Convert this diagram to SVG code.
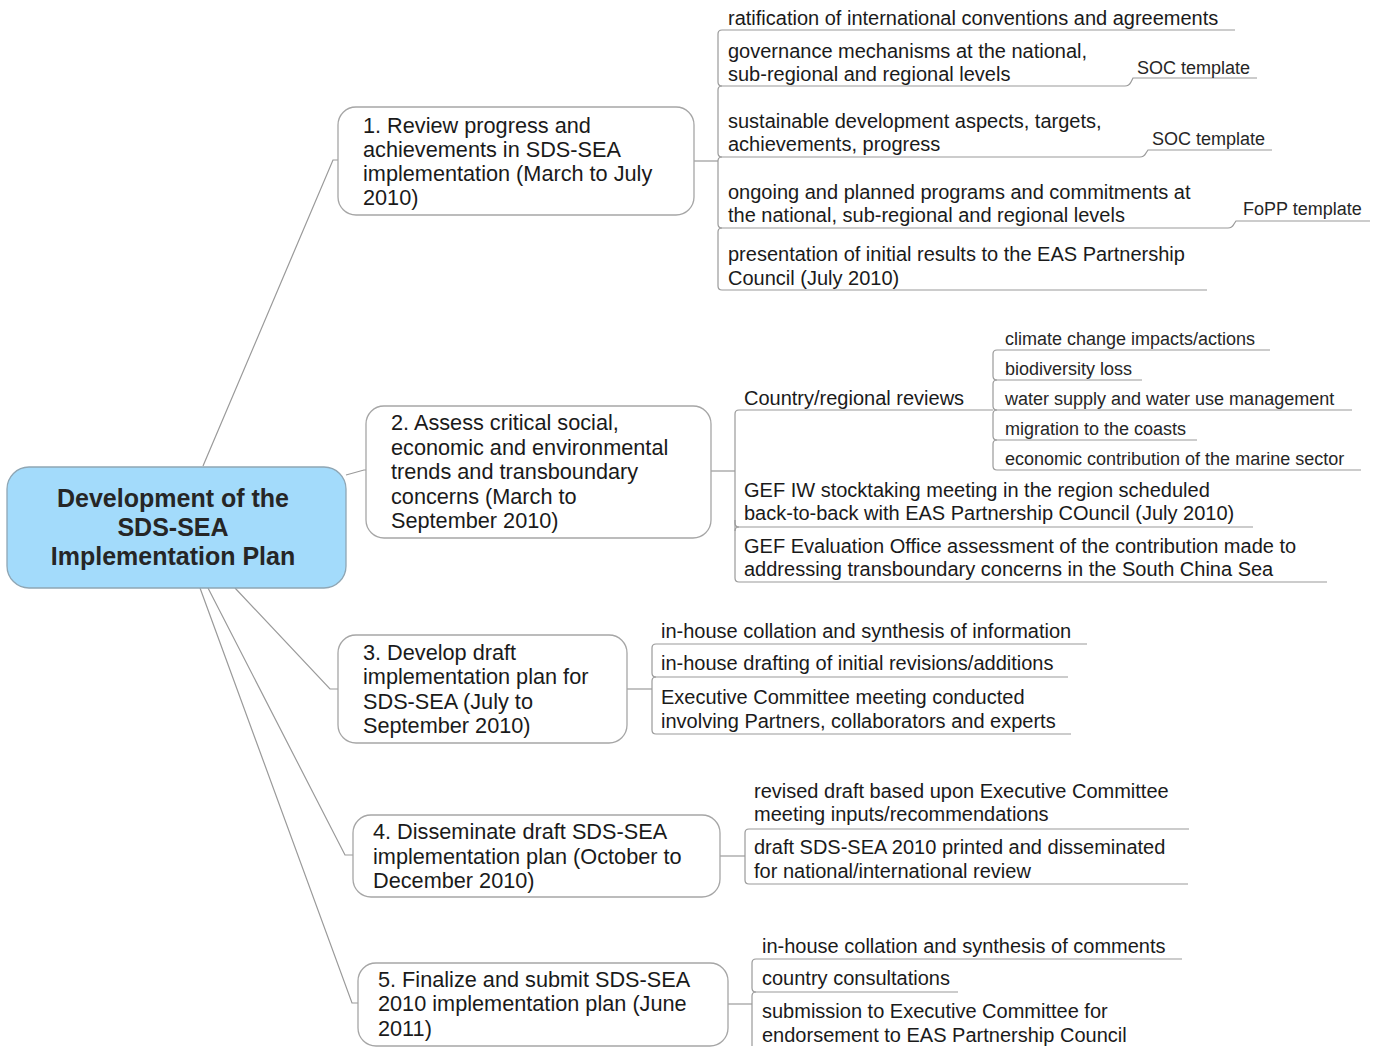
<svg xmlns="http://www.w3.org/2000/svg" width="1380" height="1047" viewBox="0 0 1380 1047">
<style>
.bg{fill:#ffffff}
.root{fill:#a3dbfb;stroke:#8fa6b4;stroke-width:1.3}
.topic{fill:#ffffff;stroke:#a6a6a6;stroke-width:1.3}
.rt{font-family:"Liberation Sans",Arial,sans-serif;font-size:25px;font-weight:bold;fill:#262626;text-anchor:middle}
.tt{font-family:"Liberation Sans",Arial,sans-serif;font-size:21.7px;fill:#1a1a1a}
.st{font-family:"Liberation Sans",Arial,sans-serif;font-size:20px;fill:#1a1a1a}
.nt{font-family:"Liberation Sans",Arial,sans-serif;font-size:18px;fill:#262626}
.ln{fill:none;stroke:#9a9a9a;stroke-width:1.2}
</style>
<rect class="bg" x="0" y="0" width="1380" height="1047"/>
<g id="connectors">
  <!-- root to main topics -->
  <path class="ln" d="M203,466 L333,160 L338,160"/>
  <path class="ln" d="M346,475 L364,470 L366,470"/>
  <path class="ln" d="M235,588 L330,689 L338,689"/>
  <path class="ln" d="M208,588 L345,855 L353,855"/>
  <path class="ln" d="M200,588 L352,1003 L358,1003"/>
  <!-- topic 1 children -->
  <path class="ln" d="M694,161 L718,161"/>
  <path class="ln" d="M722,30 L1235,30"/>
  <path class="ln" d="M722,30 Q718,30 718,34 L718,82 Q718,86 722,86 L1125,86 Q1129,86 1131,82 L1133,78 L1257,78"/>
  <path class="ln" d="M722,86 Q718,86 718,90 L718,153 Q718,157 722,157 L1140,157 Q1144,157 1146,153 L1148,150 L1272,150"/>
  <path class="ln" d="M722,157 Q718,157 718,161 L718,224 Q718,228 722,228 L1228,228 Q1232,228 1234,224 L1236,221 L1370,221"/>
  <path class="ln" d="M722,228 Q718,228 718,232 L718,286 Q718,290 722,290 L1207,290"/>
  <!-- topic 2 children -->
  <path class="ln" d="M711,471 L735,471"/>
  <path class="ln" d="M739,410 Q735,410 735,414 L735,578 Q735,582 739,582 L1327,582"/>
  <path class="ln" d="M739,410 L993,410"/>
  <path class="ln" d="M735,520 L735,523 Q735,527 739,527 L1253,527"/>
  <path class="ln" d="M739,527 Q735,527 735,531"/>
  <!-- country/regional sub-children -->
  <path class="ln" d="M997,350 L1270,350"/>
  <path class="ln" d="M997,350 Q993,350 993,354 L993,376 Q993,380 997,380 L1142,380"/>
  <path class="ln" d="M997,380 Q993,380 993,384 L993,406 Q993,410 997,410 L1352,410"/>
  <path class="ln" d="M997,410 Q993,410 993,414 L993,436 Q993,440 997,440 L1197,440"/>
  <path class="ln" d="M997,440 Q993,440 993,444 L993,466 Q993,470 997,470 L1361,470"/>
  <!-- topic 3 children -->
  <path class="ln" d="M627,689 L652,689"/>
  <path class="ln" d="M656,644 L1087,644"/>
  <path class="ln" d="M656,644 Q652,644 652,648 L652,673 Q652,677 656,677 L1068,677"/>
  <path class="ln" d="M656,677 Q652,677 652,681 L652,730 Q652,734 656,734 L1071,734"/>
  <!-- topic 4 children -->
  <path class="ln" d="M720,856 L745,856"/>
  <path class="ln" d="M749,829 L1189,829"/>
  <path class="ln" d="M749,829 Q745,829 745,833 L745,880 Q745,884 749,884 L1188,884"/>
  <!-- topic 5 children -->
  <path class="ln" d="M728,1004 L752,1004"/>
  <path class="ln" d="M756,959 L1182,959"/>
  <path class="ln" d="M756,959 Q752,959 752,963 L752,988 Q752,992 756,992 L958,992"/>
  <path class="ln" d="M756,992 Q752,992 752,996 L752,1046"/>
</g>
<g id="root">
  <rect class="root" x="7" y="467" width="339" height="121" rx="22"/>
  <text class="rt" x="173" y="507">Development of the</text>
  <text class="rt" x="173" y="536">SDS-SEA</text>
  <text class="rt" x="173" y="565">Implementation Plan</text>
</g>
<g id="topic1">
  <rect class="topic" x="338" y="107" width="356" height="108" rx="18"/>
  <text class="tt" x="363" y="133">1. Review progress and</text>
  <text class="tt" x="363" y="157">achievements in SDS-SEA</text>
  <text class="tt" x="363" y="181">implementation (March to July</text>
  <text class="tt" x="363" y="205">2010)</text>
</g>
<g id="t1c1"><text class="st" x="728" y="25">ratification of international conventions and agreements</text></g>
<g id="t1c2">
  <text class="st" x="728" y="58">governance mechanisms at the national,</text>
  <text class="st" x="728" y="81">sub-regional and regional levels</text>
</g>
<g id="t1c2n"><text class="nt" x="1137" y="74">SOC template</text></g>
<g id="t1c3">
  <text class="st" x="728" y="128">sustainable development aspects, targets,</text>
  <text class="st" x="728" y="151">achievements, progress</text>
</g>
<g id="t1c3n"><text class="nt" x="1152" y="145">SOC template</text></g>
<g id="t1c4">
  <text class="st" x="728" y="199">ongoing and planned programs and commitments at</text>
  <text class="st" x="728" y="222">the national, sub-regional and regional levels</text>
</g>
<g id="t1c4n"><text class="nt" x="1243" y="215">FoPP template</text></g>
<g id="t1c5">
  <text class="st" x="728" y="261">presentation of initial results to the EAS Partnership</text>
  <text class="st" x="728" y="285">Council (July 2010)</text>
</g>
<g id="topic2">
  <rect class="topic" x="366" y="406" width="345" height="132" rx="18"/>
  <text class="tt" x="391" y="430">2. Assess critical social,</text>
  <text class="tt" x="391" y="455">economic and environmental</text>
  <text class="tt" x="391" y="479">trends and transboundary</text>
  <text class="tt" x="391" y="504">concerns (March to</text>
  <text class="tt" x="391" y="528">September 2010)</text>
</g>
<g id="t2c1"><text class="st" x="744" y="405">Country/regional reviews</text></g>
<g id="t2c1a"><text class="nt" x="1005" y="345">climate change impacts/actions</text></g>
<g id="t2c1b"><text class="nt" x="1005" y="375">biodiversity loss</text></g>
<g id="t2c1c"><text class="nt" x="1005" y="405">water supply and water use management</text></g>
<g id="t2c1d"><text class="nt" x="1005" y="435">migration to the coasts</text></g>
<g id="t2c1e"><text class="nt" x="1005" y="465">economic contribution of the marine sector</text></g>
<g id="t2c2">
  <text class="st" x="744" y="497">GEF IW stocktaking meeting in the region scheduled</text>
  <text class="st" x="744" y="520">back-to-back with EAS Partnership COuncil (July 2010)</text>
</g>
<g id="t2c3">
  <text class="st" x="744" y="553">GEF Evaluation Office assessment of the contribution made to</text>
  <text class="st" x="744" y="576">addressing transboundary concerns in the South China Sea</text>
</g>
<g id="topic3">
  <rect class="topic" x="338" y="635" width="289" height="108" rx="18"/>
  <text class="tt" x="363" y="660">3. Develop draft</text>
  <text class="tt" x="363" y="684">implementation plan for</text>
  <text class="tt" x="363" y="709">SDS-SEA (July to</text>
  <text class="tt" x="363" y="733">September 2010)</text>
</g>
<g id="t3c1"><text class="st" x="661" y="638">in-house collation and synthesis of information</text></g>
<g id="t3c2"><text class="st" x="661" y="670">in-house drafting of initial revisions/additions</text></g>
<g id="t3c3">
  <text class="st" x="661" y="704">Executive Committee meeting conducted</text>
  <text class="st" x="661" y="728">involving Partners, collaborators and experts</text>
</g>
<g id="topic4">
  <rect class="topic" x="353" y="815" width="367" height="82" rx="18"/>
  <text class="tt" x="373" y="839">4. Disseminate draft SDS-SEA</text>
  <text class="tt" x="373" y="864">implementation plan (October to</text>
  <text class="tt" x="373" y="888">December 2010)</text>
</g>
<g id="t4c1">
  <text class="st" x="754" y="798">revised draft based upon Executive Committee</text>
  <text class="st" x="754" y="821">meeting inputs/recommendations</text>
</g>
<g id="t4c2">
  <text class="st" x="754" y="854">draft SDS-SEA 2010 printed and disseminated</text>
  <text class="st" x="754" y="878">for national/international review</text>
</g>
<g id="topic5">
  <rect class="topic" x="358" y="963" width="370" height="83" rx="18"/>
  <text class="tt" x="378" y="987">5. Finalize and submit SDS-SEA</text>
  <text class="tt" x="378" y="1011">2010 implementation plan (June</text>
  <text class="tt" x="378" y="1036">2011)</text>
</g>
<g id="t5c1"><text class="st" x="762" y="953">in-house collation and synthesis of comments</text></g>
<g id="t5c2"><text class="st" x="762" y="985">country consultations</text></g>
<g id="t5c3">
  <text class="st" x="762" y="1018">submission to Executive Committee for</text>
  <text class="st" x="762" y="1042">endorsement to EAS Partnership Council</text>
</g>
</svg>
